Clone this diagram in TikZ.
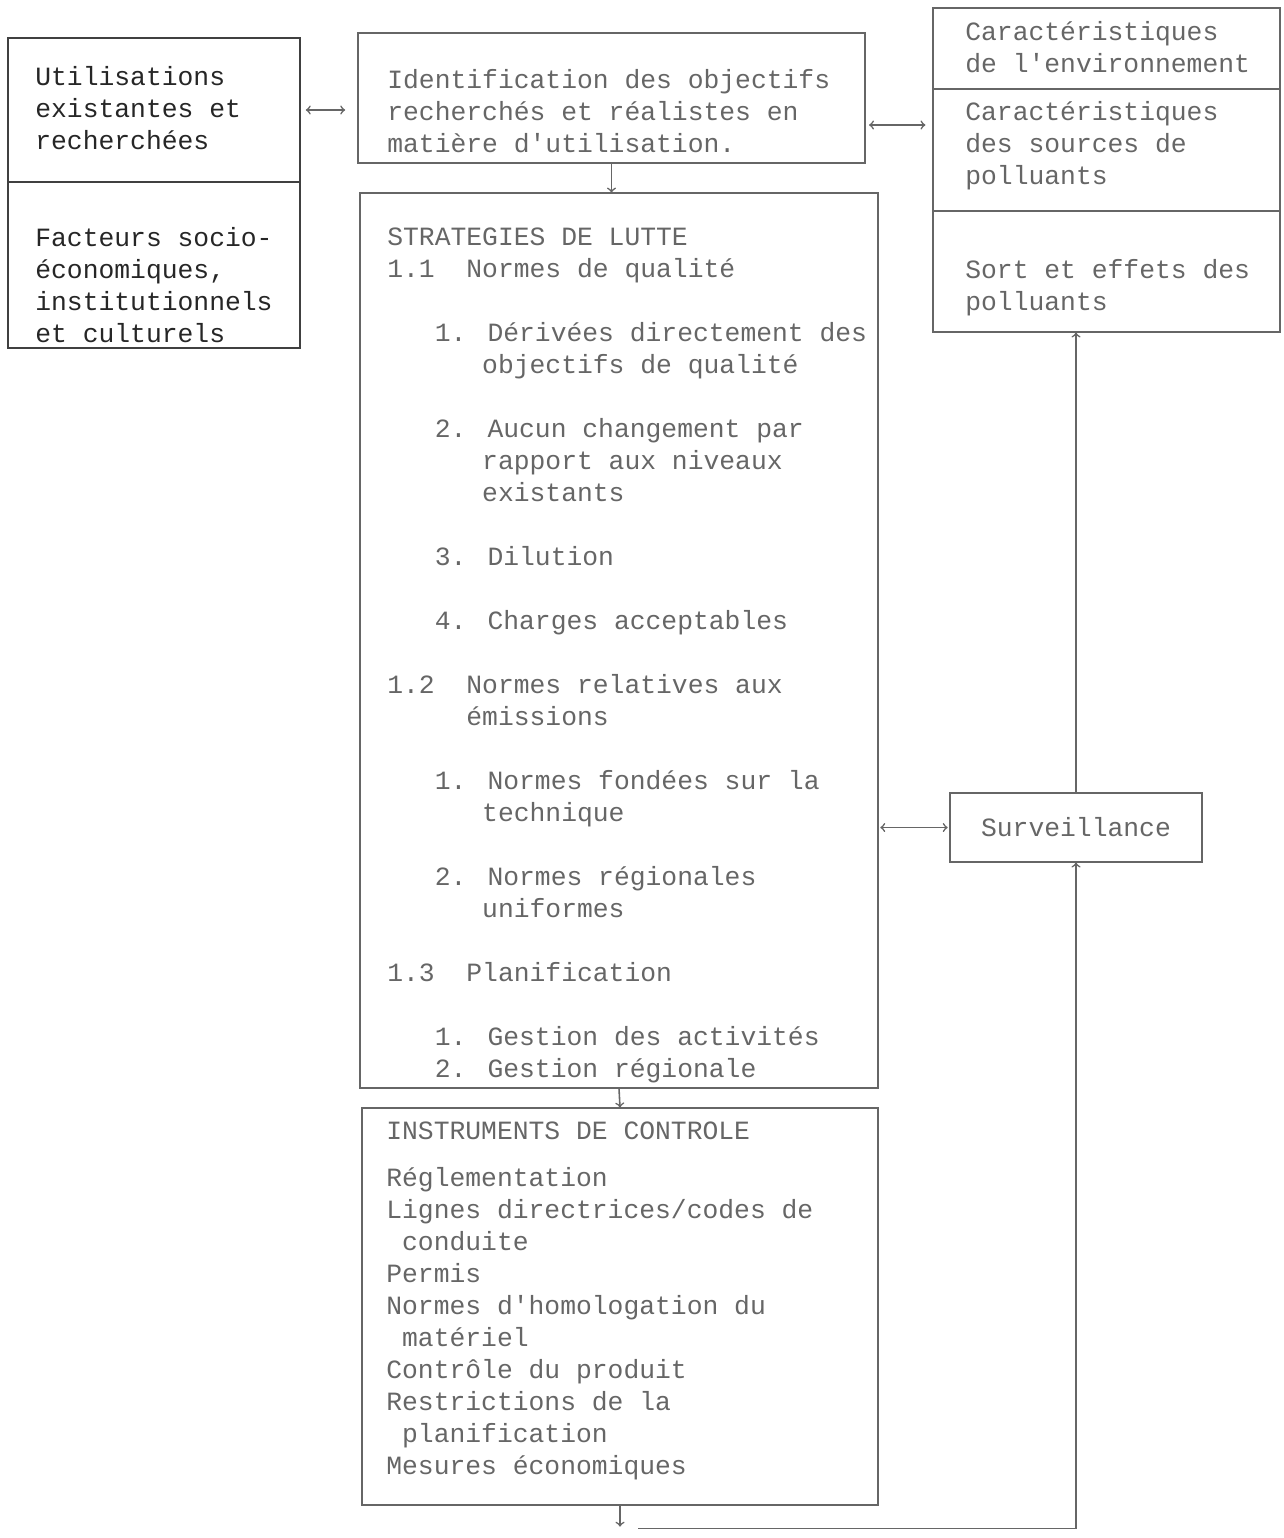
\documentclass[tikz,border=0pt]{standalone}
\usepackage{fontspec}
\usepackage{tikz}
\usetikzlibrary{arrows,calc}
\newfontfamily\typewriter{Liberation Mono}
\newcommand{\tw}{\typewriter\fontsize{15}{18.2}\selectfont}
\newcommand{\skipch}[1]{\hspace*{#1\dimexpr0.6em\relax}}

\begin{document}
\begin{tikzpicture}[x=0.02cm,y=-0.02cm,
    box/.style={draw=black!60,line width=0.7pt,inner sep=0pt},
    txt/.style={anchor=north west,inner sep=0pt,align=left,font=\tw,text=black!60},
    link/.style={draw=black!60,line width=0.9pt}]
  \useasboundingbox (0,0) rectangle (1284,1538);

  % left column
  \node[box,draw=black!75,minimum width=5.84cm,minimum height=2.88cm] (util) at (154,110) {};
  \node[box,draw=black!75,minimum width=5.84cm,minimum height=3.32cm] (fact) at (154,265) {};
  \node[txt,text=black!85] (util-t) at (35,66) {Utilisations\\existantes et\\recherchées};
  \node[txt,text=black!85] (fact-t) at (35,227) {Facteurs socio-\\économiques,\\institutionnels\\et culturels};

  % middle column
  \node[box,minimum width=10.14cm,minimum height=2.6cm] (ident) at (611.5,98) {};
  \node[txt] (ident-t) at (387,69) {Identification des objectifs\\recherchés et réalistes en\\matière d'utilisation.};

  \node[box,minimum width=10.36cm,minimum height=17.9cm] (strat) at (619,640.5) {};
  \node[txt] (strat-t) at (387,228) {STRATEGIES DE LUTTE\\
    1.1\skipch{2}Normes de qualité\\[0.64cm]
    \skipch{3}1. Dérivées directement des\\
    \skipch{6}objectifs de qualité\\[0.64cm]
    \skipch{3}2. Aucun changement par\\
    \skipch{6}rapport aux niveaux\\
    \skipch{6}existants\\[0.64cm]
    \skipch{3}3. Dilution\\[0.64cm]
    \skipch{3}4. Charges acceptables\\[0.64cm]
    1.2\skipch{2}Normes relatives aux\\
    \skipch{5}émissions\\[0.64cm]
    \skipch{3}1. Normes fondées sur la\\
    \skipch{6}technique\\[0.64cm]
    \skipch{3}2. Normes régionales\\
    \skipch{6}uniformes\\[0.64cm]
    1.3\skipch{2}Planification\\[0.64cm]
    \skipch{3}1. Gestion des activités\\
    \skipch{3}2. Gestion régionale};

  \node[box,minimum width=10.32cm,minimum height=7.94cm] (instr) at (620,1306.5) {};
  \node[txt] (instr-t) at (386,1121) {INSTRUMENTS DE CONTROLE\\[0.32cm]
    Réglementation\\
    Lignes directrices/codes de\\
    \skipch{1}conduite\\
    Permis\\
    Normes d'homologation du\\
    \skipch{1}matériel\\
    Contrôle du produit\\
    Restrictions de la\\
    \skipch{1}planification\\
    Mesures économiques};

  % right column
  \node[box,minimum width=6.94cm,minimum height=1.62cm] (env) at (1106.5,48.5) {};
  \node[box,minimum width=6.94cm,minimum height=2.44cm] (src) at (1106.5,150) {};
  \node[box,minimum width=6.94cm,minimum height=2.42cm] (sort) at (1106.5,271.5) {};
  \node[txt] (env-t) at (965,21) {Caractéristiques\\de l'environnement};
  \node[txt] (src-t) at (965,101) {Caractéristiques\\des sources de\\polluants};
  \node[txt] (sort-t) at (965,259) {Sort et effets des\\polluants};

  \node[box,minimum width=5.04cm,minimum height=1.38cm,font=\tw,text=black!60] (surv) at (1076,827.5) {Surveillance};

  % connectors
  \draw[link,<->,shorten <=3pt,shorten >=7pt] (util.east) -- (util.east -| ident.west);
  \coordinate (ia) at ($(ident.east)+(0,27)$);
  \draw[link,<->,shorten <=2pt,shorten >=4pt] (ia) -- (ia -| src.west);
  \draw[link,->] (ident.south) -- (ident.south |- strat.north);
  \draw[link,->] (strat.south) -- (instr.north);
  \draw[link,<->,shorten <=1pt,shorten >=1pt] (surv.west -| strat.east) -- (surv.west);
  \draw[link,->] (surv.north) -- (surv.north |- sort.south);
  \draw[link,->] (instr.south) -- ++(0,21) coordinate (turn);
  \draw[link,->] ($(turn)+(18,2)$) -| (surv.south);
\end{tikzpicture}
\end{document}
